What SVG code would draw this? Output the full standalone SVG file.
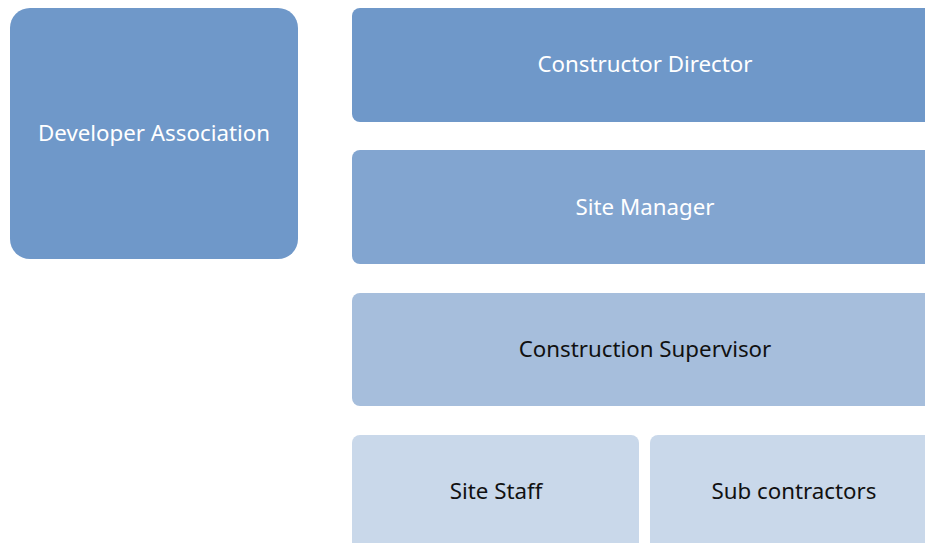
<svg xmlns="http://www.w3.org/2000/svg" width="925" height="543" viewBox="0 0 925 543">
<style>
.lbl{font-family:"Noto Sans","Open Sans",sans-serif;font-size:22.3px;text-anchor:middle;dominant-baseline:central}
.w{fill:#ffffff}
.d{fill:#111111}
</style>
<rect width="925" height="543" fill="#ffffff"/>
<g id="developer-association">
<rect x="10" y="8" width="288" height="251" rx="20" fill="#6f98c9"/>
<text class="lbl w" x="154" y="132">Developer Association</text>
</g>
<g id="constructor-director">
<rect x="352" y="8" width="586" height="114" rx="8" fill="#6f98c9"/>
<text class="lbl w" x="645" y="63">Constructor Director</text>
</g>
<g id="site-manager">
<rect x="352" y="150" width="586" height="114" rx="8" fill="#82a5d0"/>
<text class="lbl w" x="645" y="206">Site Manager</text>
</g>
<g id="construction-supervisor">
<rect x="352" y="293" width="586" height="113" rx="8" fill="#a6bedc"/>
<text class="lbl d" x="645" y="348">Construction Supervisor</text>
</g>
<g id="site-staff">
<rect x="352" y="435" width="287" height="120" rx="8" fill="#c9d8ea"/>
<text class="lbl d" x="496" y="490">Site Staff</text>
</g>
<g id="sub-contractors">
<rect x="650" y="435" width="288" height="120" rx="8" fill="#c9d8ea"/>
<text class="lbl d" x="794" y="490">Sub contractors</text>
</g>
<g id="connectors"></g>
</svg>
